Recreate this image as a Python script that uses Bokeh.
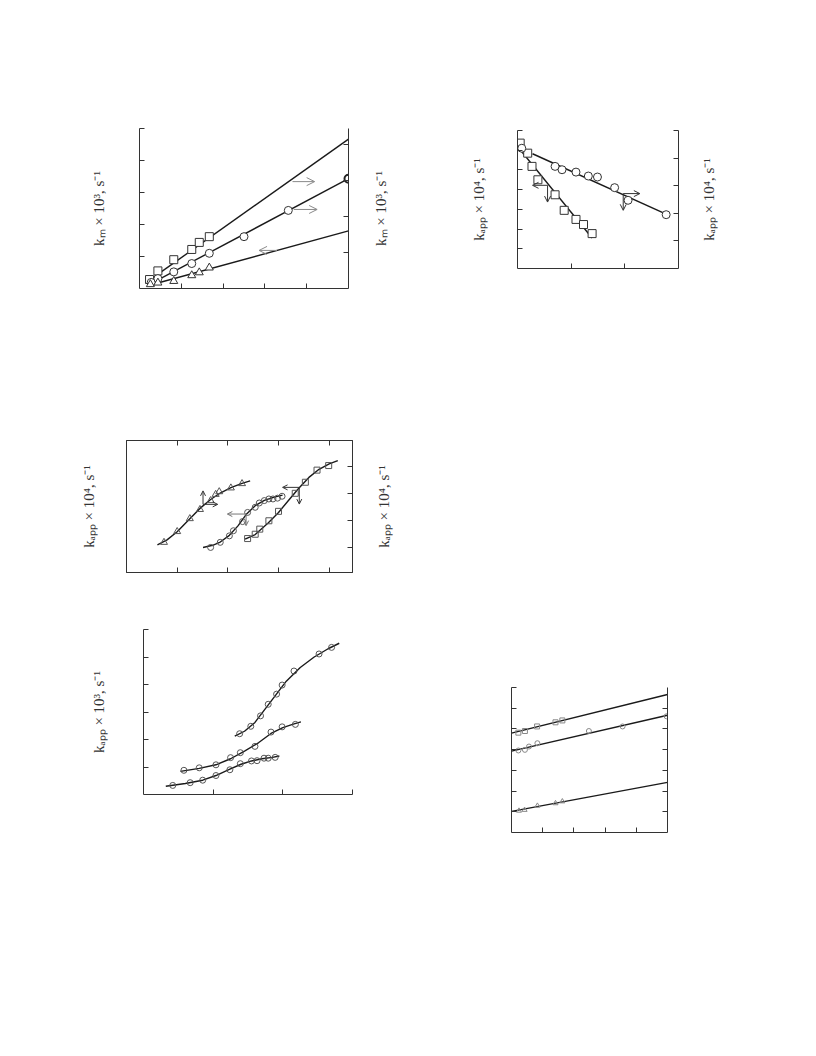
import math
from bokeh.plotting import figure
from bokeh.layouts import column, row
from bokeh.models import (Range1d, LinearAxis, FixedTicker, CustomJSTickFormatter,
                          Arrow, OpenHead, Spacer)
from bokeh.embed import file_html
from bokeh.resources import INLINE

# ---------------- data ----------------
# Panel 1 : k_m x 10^3
p1_sq_x = [0.24, 0.44, 0.82, 1.25, 1.43, 1.67]
p1_sq_y = [0.28, 0.55, 0.90, 1.22, 1.44, 1.62]
p1_ci_x = [0.28, 0.44, 0.82, 1.25, 1.67, 2.50, 3.56]
p1_ci_y = [0.19, 0.31, 0.52, 0.78, 1.10, 1.62, 2.44]
p1_ci_end_x = [5.00]
p1_ci_end_y = [3.43]
p1_tr_x = [0.26, 0.44, 0.82, 1.25, 1.43, 1.67]
p1_tr_y = [0.13, 0.18, 0.23, 0.41, 0.50, 0.65]
p1_fit_x = [0.24, 5.0]
p1_fit_sq = [0.26, 4.67]
p1_fit_ci = [0.13, 3.43]
p1_fit_tr = [0.10, 1.80]

# Panel 2 : k_app x 10^4
p2_sq_x = [0.05, 0.19, 0.27, 0.38, 0.70, 0.87, 1.09, 1.23, 1.39]
p2_sq_y = [6.36, 5.85, 5.18, 4.50, 3.74, 2.95, 2.49, 2.23, 1.77]
p2_ci_x = [0.08, 0.70, 0.83, 1.09, 1.32, 1.49, 1.81, 2.06, 2.77]
p2_ci_y = [6.10, 5.18, 5.01, 4.89, 4.69, 4.64, 4.10, 3.46, 2.73]
p2_fit_sq_x = [0.0, 1.39]
p2_fit_sq_y = [6.19, 1.55]
p2_fit_ci_x = [0.28, 2.78]
p2_fit_ci_y = [5.82, 2.75]

# Panel 3 : k_app x 10^4 (sigmoid sets)
p3_tr_x = [0.74, 1.00, 1.25, 1.45, 1.66, 1.76, 1.83, 2.06, 2.28]
p3_tr_y = [1.19, 1.59, 2.07, 2.41, 2.74, 2.97, 3.07, 3.21, 3.37]
p3_tr_cx = [0.61, 0.80, 1.00, 1.24, 1.45, 1.66, 1.85, 2.06, 2.28, 2.44]
p3_tr_cy = [1.10, 1.28, 1.58, 2.05, 2.45, 2.78, 3.02, 3.22, 3.38, 3.47]
p3_ci_x = [1.66, 1.85, 2.03, 2.11, 2.29, 2.39, 2.54, 2.62, 2.72, 2.81, 2.89, 2.98, 3.07]
p3_ci_y = [1.00, 1.19, 1.43, 1.62, 1.96, 2.30, 2.49, 2.65, 2.74, 2.80, 2.80, 2.83, 2.90]
p3_ci_cx = [1.51, 1.70, 1.85, 2.03, 2.20, 2.36, 2.54, 2.72, 2.90, 3.08]
p3_ci_cy = [1.00, 1.08, 1.20, 1.45, 1.80, 2.22, 2.55, 2.75, 2.86, 2.94]
p3_sq_x = [2.39, 2.54, 2.63, 2.81, 3.00, 3.33, 3.53, 3.76, 3.99]
p3_sq_y = [1.33, 1.49, 1.68, 1.99, 2.34, 3.01, 3.42, 3.87, 4.04]
p3_sq_cx = [2.34, 2.54, 2.80, 3.00, 3.20, 3.40, 3.60, 3.80, 4.00, 4.17]
p3_sq_cy = [1.31, 1.48, 1.92, 2.30, 2.75, 3.20, 3.60, 3.90, 4.10, 4.22]

# Panel 4 : k_app x 10^3
p4_a_x = [1.38, 1.54, 1.68, 1.79, 1.91, 1.99, 2.16, 2.52, 2.70]
p4_a_y = [2.21, 2.48, 2.86, 3.28, 3.65, 3.98, 4.49, 5.11, 5.35]
p4_a_cx = [1.31, 1.45, 1.60, 1.75, 1.90, 2.05, 2.25, 2.45, 2.65, 2.81]
p4_a_cy = [2.12, 2.30, 2.62, 3.12, 3.62, 4.12, 4.62, 5.00, 5.30, 5.50]
p4_b_x = [0.58, 0.80, 1.04, 1.25, 1.39, 1.60, 1.83, 1.99, 2.18]
p4_b_y = [0.88, 0.97, 1.08, 1.34, 1.52, 1.75, 2.27, 2.46, 2.55]
p4_b_cx = [0.53, 0.80, 1.04, 1.25, 1.45, 1.65, 1.83, 2.00, 2.15, 2.26]
p4_b_cy = [0.84, 0.95, 1.08, 1.30, 1.58, 1.88, 2.22, 2.43, 2.56, 2.64]
p4_c_x = [0.42, 0.67, 0.85, 1.04, 1.24, 1.39, 1.55, 1.63, 1.73, 1.79, 1.89]
p4_c_y = [0.33, 0.43, 0.52, 0.69, 0.90, 1.12, 1.22, 1.23, 1.32, 1.32, 1.35]
p4_c_cx = [0.32, 0.60, 0.85, 1.04, 1.24, 1.40, 1.55, 1.70, 1.85, 1.95]
p4_c_cy = [0.30, 0.40, 0.52, 0.69, 0.92, 1.10, 1.22, 1.30, 1.35, 1.40]

# Panel 5
p5_sq_x = [0.22, 0.43, 0.82, 1.41, 1.63]
p5_sq_y = [4.82, 4.90, 5.12, 5.32, 5.41]
p5_ci_x = [0.22, 0.43, 0.56, 0.83, 2.48, 3.56, 4.97]
p5_ci_y = [3.96, 3.99, 4.15, 4.31, 4.90, 5.12, 5.61]
p5_tr_x = [0.24, 0.42, 0.83, 1.41, 1.63]
p5_tr_y = [1.05, 1.09, 1.29, 1.41, 1.50]
p5_fit_x = [0.0, 5.0]
p5_fit_sq = [4.80, 6.66]
p5_fit_ci = [3.93, 5.66]
p5_fit_tr = [1.02, 2.42]

lab_m3 = "kₘ × 10³, s⁻¹"
lab_a4 = "kₐₚₚ × 10⁴, s⁻¹"
lab_a3 = "kₐₚₚ × 10³, s⁻¹"

AX = "#333333"
LN = "#1a1a1a"
FONT = "Liberation Serif"
LABEL_SIZE = "15px"


def style_axis(ax, ticks, label=None, standoff=20):
    ax.ticker = FixedTicker(ticks=ticks)
    ax.formatter = CustomJSTickFormatter(code="return ''")
    ax.major_tick_in = 5
    ax.major_tick_out = 0
    ax.minor_tick_line_color = None
    ax.axis_line_color = AX
    ax.major_tick_line_color = AX
    ax.axis_line_width = 1
    if label:
        ax.axis_label = label
        ax.axis_label_text_font = FONT
        ax.axis_label_text_font_style = "normal"
        ax.axis_label_text_font_size = LABEL_SIZE
        ax.axis_label_text_color = "#333333"
        ax.axis_label_standoff = standoff


def make_fig(w, h, l, r, t, b, xr, yr):
    p = figure(width=w, height=h, min_border_left=l, min_border_right=r,
               min_border_top=t, min_border_bottom=b,
               x_range=Range1d(*xr), y_range=Range1d(*yr),
               output_backend="svg", toolbar_location=None)
    p.xgrid.visible = False
    p.ygrid.visible = False
    p.outline_line_color = None
    p.background_fill_color = "white"
    p.border_fill_color = "white"
    return p


def label_fig(text, h, t, b, standoff=10):
    # narrow companion figure carrying the right-hand axis title (bottom-to-top)
    f = make_fig(36, h, 30, 0, t, b, (0, 1), (0, 1))
    f.xaxis.visible = False
    ya = f.yaxis[0]
    style_axis(ya, [], text, standoff)
    ya.axis_line_color = None
    ya.major_tick_line_color = None
    return f


def arrow(p, x0, y0, x1, y1, color, size=7):
    p.add_layout(Arrow(end=OpenHead(size=size, line_color=color, line_width=1),
                       x_start=x0, y_start=y0, x_end=x1, y_end=y1,
                       line_color=color, line_width=1))


# ---------------- Panel 1 ----------------
p1 = make_fig(329, 400, 100, 20, 128, 112, (0, 5), (0, 5))
style_axis(p1.xaxis[0], [1, 2, 3, 4])
style_axis(p1.yaxis[0], [1, 2, 3, 4, 5], lab_m3, 33)
p1.extra_y_ranges = {"r": Range1d(0, 4.44)}
ax = LinearAxis(y_range_name="r")
style_axis(ax, [1, 2, 3, 4])
p1.add_layout(ax, "right")
for yy in (p1_fit_sq, p1_fit_ci, p1_fit_tr):
    p1.line(p1_fit_x, yy, line_color=LN, line_width=1.4)
p1.scatter(p1_sq_x, p1_sq_y, marker="square", size=8, fill_color="white", line_color="#333", line_width=1)
p1.scatter(p1_ci_x, p1_ci_y, marker="circle", size=8, fill_color="white", line_color="#333", line_width=1)
p1.scatter(p1_ci_end_x, p1_ci_end_y, marker="circle", size=8, fill_color="white", line_color="#222", line_width=2)
p1.scatter(p1_tr_x, p1_tr_y, marker="triangle", size=8, fill_color="white", line_color="#333", line_width=1)
arrow(p1, 3.66, 3.34, 4.19, 3.34, "#8a8a8a", 8)
arrow(p1, 3.69, 2.47, 4.25, 2.47, "#8a8a8a", 8)
arrow(p1, 3.29, 1.19, 2.86, 1.19, "#8a8a8a", 8)
l1 = label_fig(lab_m3, 400, 128, 112)

# ---------------- Panel 2 ----------------
p2 = make_fig(269, 400, 90, 18, 130, 132, (0, 3), (0, 7))
style_axis(p2.xaxis[0], [1, 2])
style_axis(p2.yaxis[0], [1, 2, 3, 4, 5, 6, 7], lab_a4, 31)
p2.extra_y_ranges = {"r": Range1d(0, 5)}
ax = LinearAxis(y_range_name="r")
style_axis(ax, [1, 2, 3, 4, 5])
p2.add_layout(ax, "right")
p2.line(p2_fit_sq_x, p2_fit_sq_y, line_color=LN, line_width=1.4)
p2.line(p2_fit_ci_x, p2_fit_ci_y, line_color=LN, line_width=1.4)
p2.scatter(p2_sq_x, p2_sq_y, marker="square", size=8, fill_color="white", line_color="#333", line_width=1)
p2.scatter(p2_ci_x, p2_ci_y, marker="circle", size=8, fill_color="white", line_color="#333", line_width=1)
arrow(p2, 0.56, 4.22, 0.28, 4.22, "#333", 6)
arrow(p2, 0.56, 4.22, 0.56, 3.37, "#333", 6)
arrow(p2, 1.97, 3.80, 2.28, 3.80, "#333", 6)
arrow(p2, 1.97, 3.80, 1.97, 2.95, "#333", 6)
l2 = label_fig(lab_a4, 400, 130, 132)

# ---------------- Panel 3 ----------------
p3 = make_fig(345, 200, 100, 19, 40, 28, (0, 4.46), (0.07, 4.97))
p3.outline_line_color = AX
style_axis(p3.xaxis[0], [1, 2, 3, 4])
style_axis(p3.yaxis[0], [], lab_a4, 30)
p3.extra_y_ranges = {"r": Range1d(0.07, 4.97)}
ax = LinearAxis(y_range_name="r")
style_axis(ax, [1, 2, 3, 4])
p3.add_layout(ax, "right")
axt = LinearAxis()
style_axis(axt, [1, 2, 3, 4])
p3.add_layout(axt, "above")
p3.line(p3_tr_cx, p3_tr_cy, line_color=LN, line_width=1.4)
p3.line(p3_ci_cx, p3_ci_cy, line_color=LN, line_width=1.4)
p3.line(p3_sq_cx, p3_sq_cy, line_color=LN, line_width=1.4)
p3.scatter(p3_tr_x, p3_tr_y, marker="triangle", size=7, fill_color=None, line_color="#555", line_width=1)
p3.scatter(p3_ci_x, p3_ci_y, marker="circle", size=6, fill_color=None, line_color="#555", line_width=1)
p3.scatter(p3_sq_x, p3_sq_y, marker="square", size=6, fill_color=None, line_color="#555", line_width=1)
arrow(p3, 1.51, 2.60, 1.51, 3.10, "#333", 5)
arrow(p3, 1.51, 2.60, 1.80, 2.60, "#333", 5)
arrow(p3, 2.36, 2.24, 1.99, 2.24, "#777", 5)
arrow(p3, 2.36, 2.24, 2.36, 1.81, "#777", 5)
arrow(p3, 3.41, 3.23, 3.08, 3.23, "#333", 5)
arrow(p3, 3.41, 3.23, 3.41, 2.61, "#333", 5)
l3 = label_fig(lab_a4, 200, 40, 28)

# ---------------- Panel 4 ----------------
p4 = make_fig(365, 240, 100, 56, 29, 46, (0, 3), (0, 6))
style_axis(p4.xaxis[0], [1, 2, 3])
style_axis(p4.yaxis[0], [1, 2, 3, 4, 5, 6], lab_a3, 37)
for cx, cy in ((p4_a_cx, p4_a_cy), (p4_b_cx, p4_b_cy), (p4_c_cx, p4_c_cy)):
    p4.line(cx, cy, line_color=LN, line_width=1.4)
for xx, yy in ((p4_a_x, p4_a_y), (p4_b_x, p4_b_y), (p4_c_x, p4_c_y)):
    p4.scatter(xx, yy, marker="circle", size=6, fill_color=None, line_color="#555", line_width=1)

# ---------------- Panel 5 ----------------
p5 = make_fig(387, 448, 90, 141, 287, 16, (0, 5), (0, 7))
style_axis(p5.xaxis[0], [1, 2, 3, 4])
style_axis(p5.yaxis[0], [1, 2, 3, 4, 5, 6, 7])
ax = LinearAxis()
style_axis(ax, [1, 2, 3, 4, 5, 6])
p5.add_layout(ax, "right")
for yy in (p5_fit_sq, p5_fit_ci, p5_fit_tr):
    p5.line(p5_fit_x, yy, line_color=LN, line_width=1.4)
p5.scatter(p5_sq_x, p5_sq_y, marker="square", size=5, fill_color=None, line_color="#888", line_width=1)
p5.scatter(p5_ci_x, p5_ci_y, marker="circle", size=5, fill_color=None, line_color="#888", line_width=1)
p5.scatter(p5_tr_x, p5_tr_y, marker="triangle", size=5, fill_color=None, line_color="#888", line_width=1)

left = column(row(Spacer(width=39), p1, l1),
              row(Spacer(width=26), p3, l3),
              row(Spacer(width=43), p4))
right = column(row(Spacer(width=19), p2, l2), row(Spacer(width=13), p5))
layout = row(left, right)
open("out.html", "w").write(file_html(layout, INLINE))
